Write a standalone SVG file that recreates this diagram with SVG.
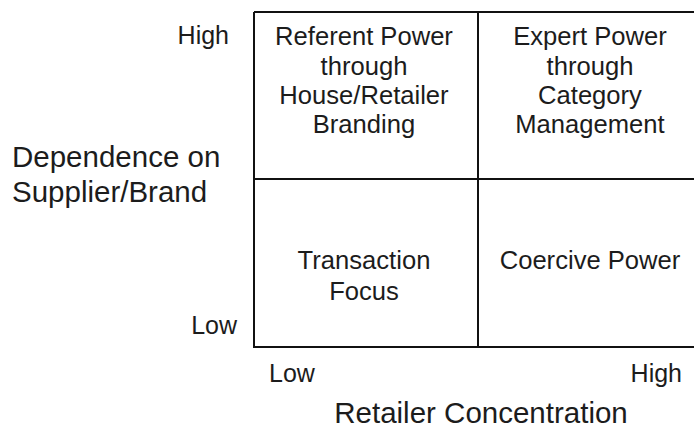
<svg xmlns="http://www.w3.org/2000/svg" width="694" height="434" viewBox="0 0 694 434">
  <style>
    text { font-family: "Liberation Sans", Arial, Helvetica, sans-serif; fill: #1c1c1c; }
    .cell { font-size: 25.6px; text-anchor: middle; }
    .tick { font-size: 25px; }
    .axis { font-size: 29.5px; }
    .grid { fill: none; stroke: #111; stroke-width: 2; }
  </style>
  <rect width="694" height="434" fill="#ffffff"/>

  <!-- matrix frame and dividers -->
  <g id="connectors">
    <path class="grid" d="M254 12 H703 M254 12 V347 H703 M478 12 V347 M254 179 H703"/>
  </g>

  <g id="q-referent">
    <text class="cell" x="364" y="45">Referent Power</text>
    <text class="cell" x="364" y="74.5">through</text>
    <text class="cell" x="364" y="104">House/Retailer</text>
    <text class="cell" x="364" y="133">Branding</text>
  </g>
  <g id="q-expert">
    <text class="cell" x="590" y="45">Expert Power</text>
    <text class="cell" x="590" y="74.5">through</text>
    <text class="cell" x="590" y="104">Category</text>
    <text class="cell" x="590" y="133">Management</text>
  </g>
  <g id="q-transaction">
    <text class="cell" x="364" y="269">Transaction</text>
    <text class="cell" x="364" y="299.5">Focus</text>
  </g>
  <g id="q-coercive">
    <text class="cell" x="590" y="269">Coercive Power</text>
  </g>

  <!-- vertical axis -->
  <g id="y-axis">
    <text class="tick" x="229" y="43.5" text-anchor="end">High</text>
    <text class="tick" x="237" y="334" text-anchor="end">Low</text>
    <text class="axis" x="12" y="167">Dependence on</text>
    <text class="axis" x="12" y="201.5">Supplier/Brand</text>
  </g>

  <!-- horizontal axis -->
  <g id="x-axis">
    <text class="tick" x="269" y="381.5">Low</text>
    <text class="tick" x="682" y="381.5" text-anchor="end">High</text>
    <text class="axis" x="481" y="422.5" text-anchor="middle">Retailer Concentration</text>
  </g>
</svg>
